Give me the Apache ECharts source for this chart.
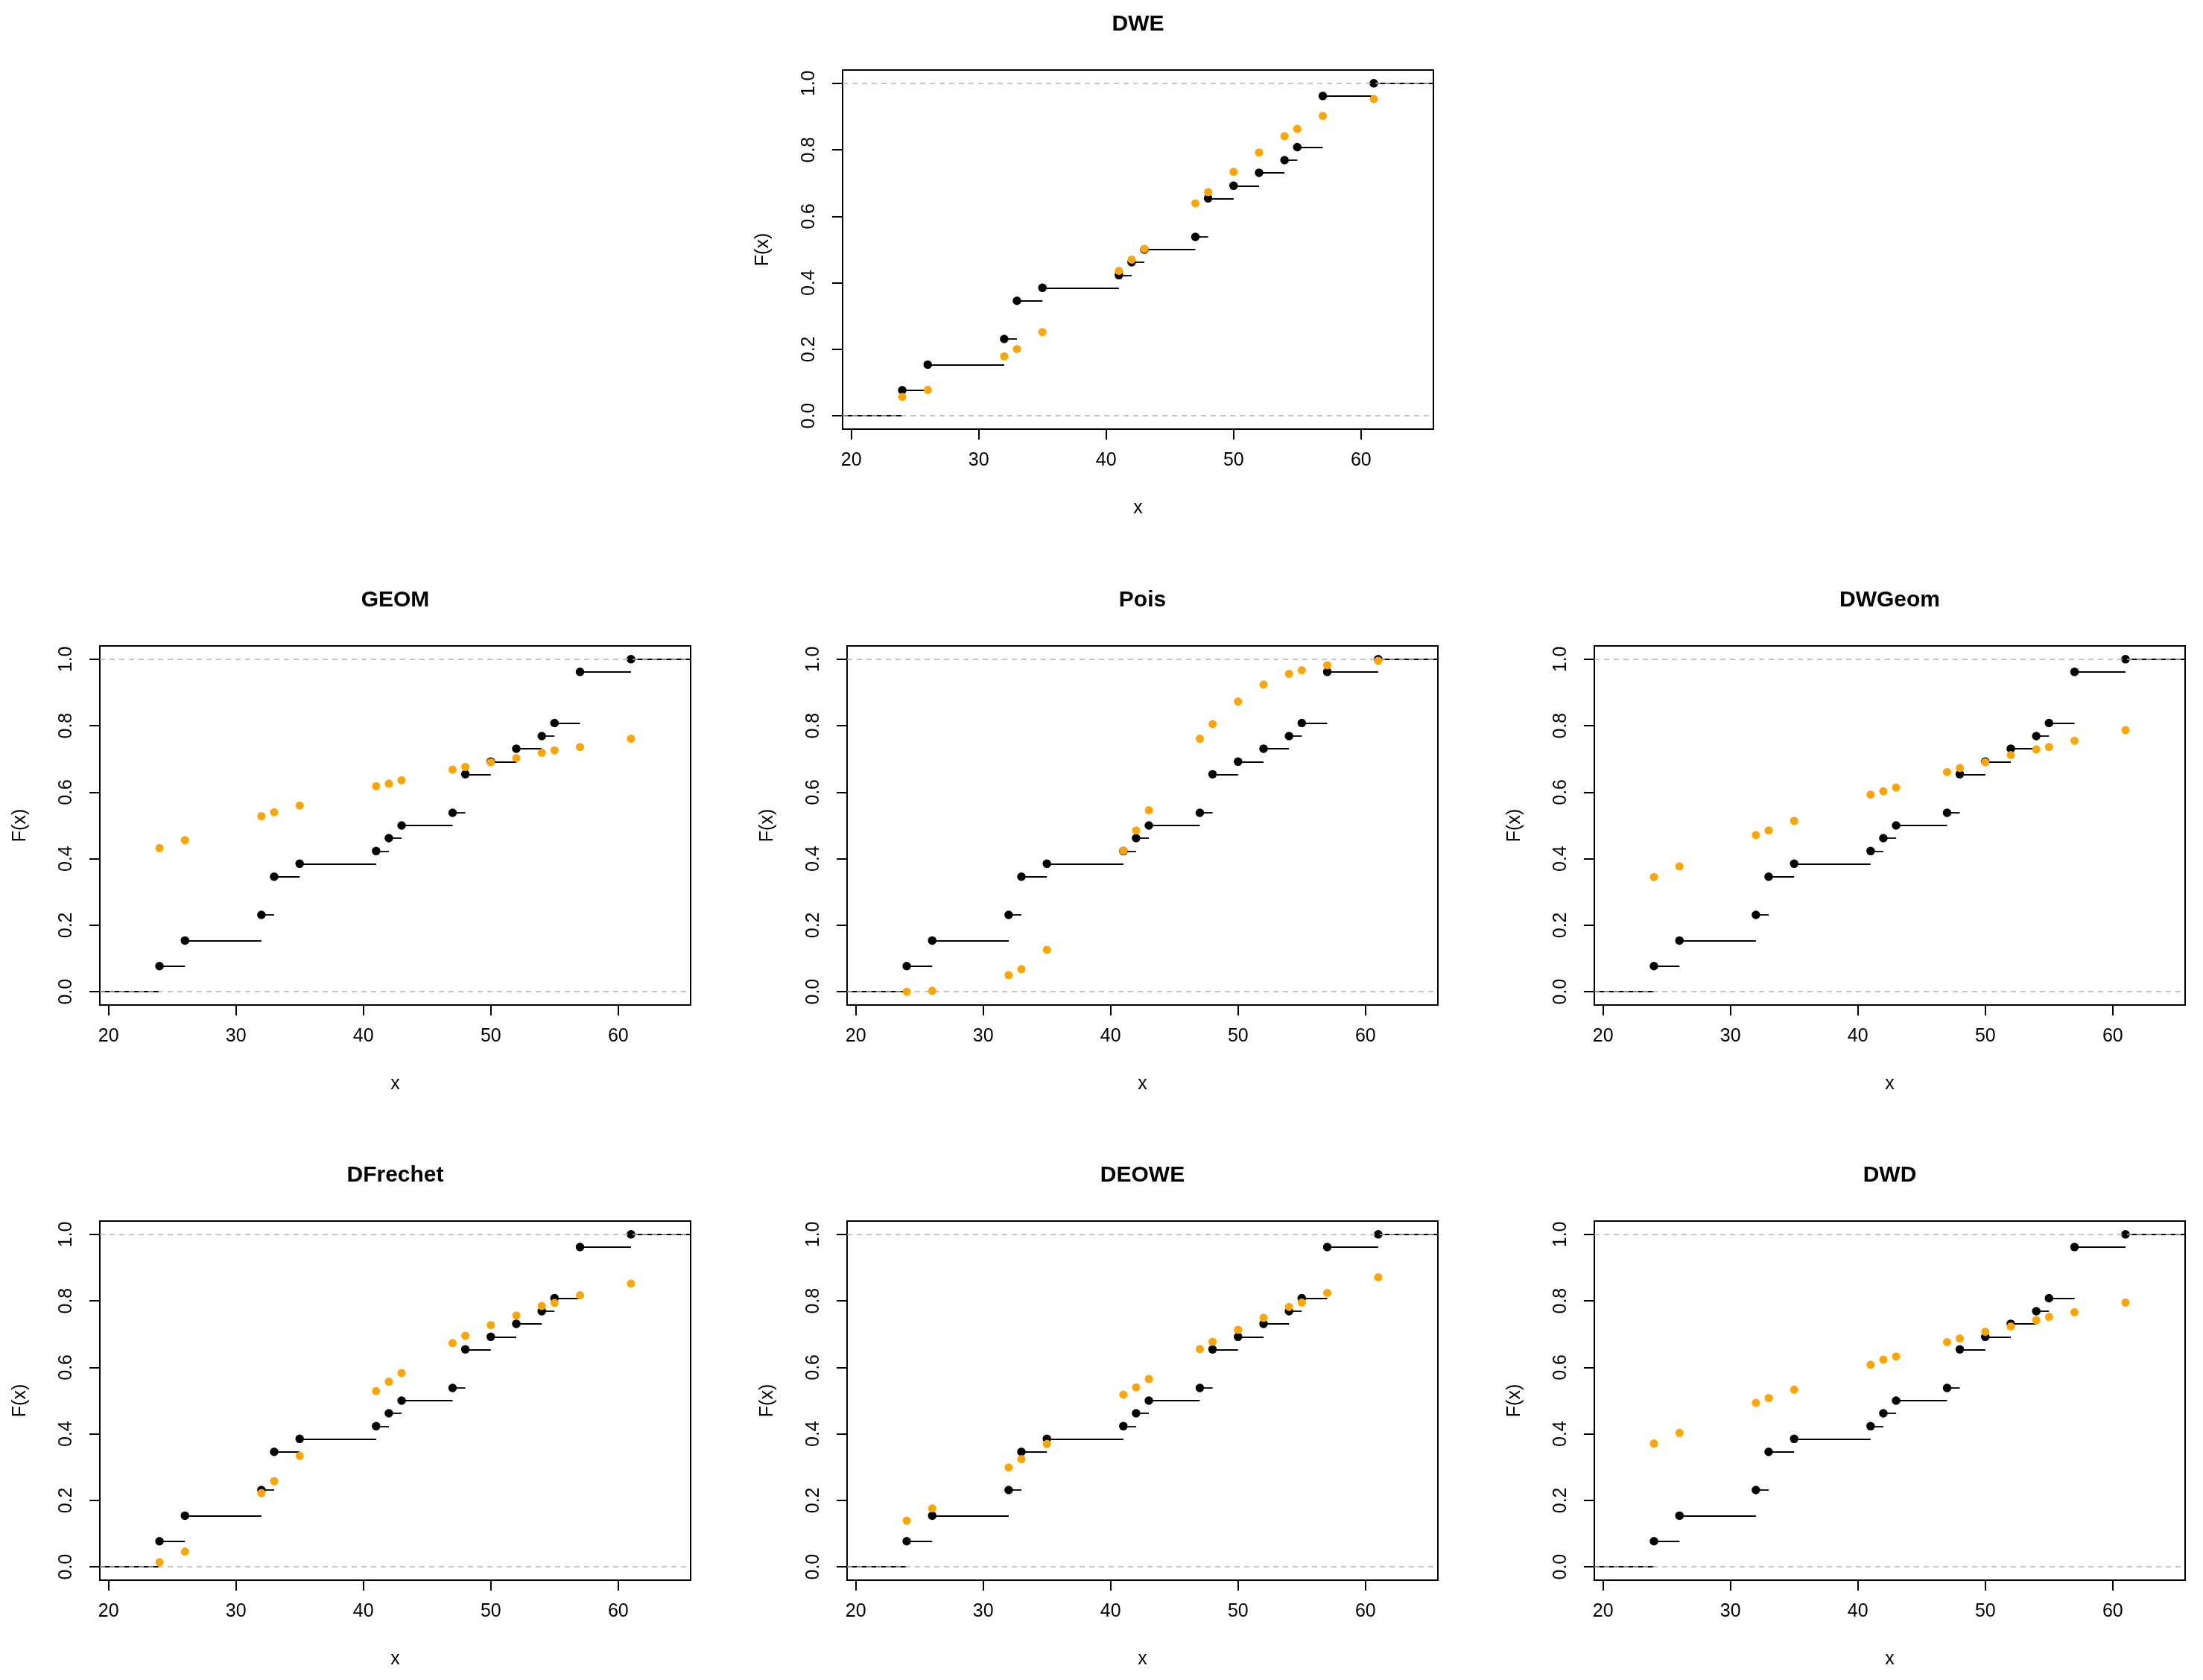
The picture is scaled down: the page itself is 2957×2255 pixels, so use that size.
<!DOCTYPE html>
<html>
<head>
<meta charset="utf-8">
<script src="https://cdn.jsdelivr.net/npm/echarts@6/dist/echarts.min.js"></script>
<style>
html,body{margin:0;padding:0;background:#fff;}
#chart{width:2957px;height:2255px;}
</style>
</head>
<body>
<div id="chart"></div>
<script>
// ---- data ----
const xVals = [24, 26, 32, 33, 35, 41, 42, 43, 47, 48, 50, 52, 54, 55, 57, 61];
const ecdfVals = [0.077, 0.154, 0.231, 0.346, 0.385, 0.423, 0.462, 0.500, 0.538, 0.654, 0.692, 0.731, 0.769, 0.808, 0.962, 1.000];
const panelNames = ['DWE', 'GEOM', 'Pois', 'DWGeom', 'DFrechet', 'DEOWE', 'DWD'];
const fitDWE      = [0.057, 0.078, 0.179, 0.201, 0.252, 0.436, 0.470, 0.502, 0.639, 0.673, 0.734, 0.792, 0.841, 0.863, 0.902, 0.953];
const fitGEOM     = [0.432, 0.456, 0.528, 0.540, 0.560, 0.618, 0.626, 0.636, 0.668, 0.676, 0.690, 0.703, 0.719, 0.726, 0.736, 0.761];
const fitPois     = [0.000, 0.003, 0.050, 0.068, 0.126, 0.424, 0.485, 0.546, 0.761, 0.805, 0.873, 0.924, 0.956, 0.967, 0.982, 0.995];
const fitDWGeom   = [0.345, 0.377, 0.471, 0.485, 0.514, 0.593, 0.603, 0.614, 0.661, 0.673, 0.690, 0.712, 0.729, 0.736, 0.755, 0.787];
const fitDFrechet = [0.014, 0.046, 0.222, 0.258, 0.334, 0.529, 0.557, 0.583, 0.673, 0.695, 0.727, 0.756, 0.785, 0.794, 0.817, 0.852];
const fitDEOWE    = [0.139, 0.176, 0.299, 0.324, 0.370, 0.518, 0.540, 0.565, 0.655, 0.677, 0.713, 0.749, 0.782, 0.795, 0.824, 0.871];
const fitDWD      = [0.371, 0.403, 0.493, 0.508, 0.533, 0.608, 0.623, 0.633, 0.676, 0.687, 0.707, 0.723, 0.742, 0.752, 0.766, 0.795];
const fits = [fitDWE, fitGEOM, fitPois, fitDWGeom, fitDFrechet, fitDEOWE, fitDWD];
const xTicks = [20, 30, 40, 50, 60];
const yTicks = [0, 0.2, 0.4, 0.6, 0.8, 1.0];
const xRange = [19.32, 65.68];
const yRange = [-0.04, 1.04];
const refLevels = [0, 1];

// ---- layout ----
const W = 793, H = 482;
const layout = [
  {left: 1131, top: 94},
  {left: 134, top: 867}, {left: 1137, top: 867}, {left: 2140, top: 867},
  {left: 134, top: 1639}, {left: 1137, top: 1639}, {left: 2140, top: 1639}
];
const FONT = 'Liberation Sans, Arial, sans-serif';

const grids = [], xAxes = [], yAxes = [], titles = [], series = [];
panelNames.forEach((name, i) => {
  const L = layout[i];
  grids.push({left: L.left, top: L.top, width: W, height: H, show: true,
    borderColor: '#000', borderWidth: 2, backgroundColor: 'transparent', containLabel: false});
  xAxes.push({type: 'value', gridIndex: i, min: xRange[0], max: xRange[1], position: 'bottom',
    name: 'x', nameLocation: 'middle', nameGap: 94,
    nameTextStyle: {fontSize: 25, fontFamily: FONT, color: '#000'},
    axisLine: {show: false, onZero: false}, splitLine: {show: false},
    axisTick: {show: true, inside: false, length: 14, customValues: xTicks, lineStyle: {color: '#000', width: 2}},
    axisLabel: {show: true, customValues: xTicks, margin: 30, fontSize: 25, fontFamily: FONT, color: '#000',
      formatter: v => String(Math.round(v))}
  });
  yAxes.push({type: 'value', gridIndex: i, min: yRange[0], max: yRange[1], position: 'left',
    name: 'F(x)', nameLocation: 'middle', nameGap: 94, nameRotate: 90,
    nameTextStyle: {fontSize: 25, fontFamily: FONT, color: '#000'},
    axisLine: {show: false, onZero: false}, splitLine: {show: false},
    axisTick: {show: true, inside: false, length: 14, customValues: yTicks, lineStyle: {color: '#000', width: 2}},
    axisLabel: {show: true, customValues: yTicks, rotate: 90, margin: 32, fontSize: 25, fontFamily: FONT, color: '#000',
      formatter: v => v.toFixed(1)}
  });
  titles.push({text: name, left: L.left + W / 2, top: L.top - 61.5, textAlign: 'center', textVerticalAlign: 'middle',
    padding: 0, textStyle: {fontSize: 30, fontWeight: 'bold', fontFamily: FONT, color: '#000'}});

  // step segments (including tails)
  const segs = [{coords: [[xRange[0], 0], [xVals[0], 0]]}];
  for (let k = 0; k < xVals.length; k++) {
    const xEnd = k < xVals.length - 1 ? xVals[k + 1] : xRange[1];
    segs.push({coords: [[xVals[k], ecdfVals[k]], [xEnd, ecdfVals[k]]]});
  }
  series.push({type: 'lines', coordinateSystem: 'cartesian2d', xAxisIndex: i, yAxisIndex: i,
    data: segs, silent: true, z: 2,
    lineStyle: {color: '#000', width: 1.8, opacity: 1, type: 'solid'}});
  series.push({type: 'scatter', xAxisIndex: i, yAxisIndex: i, z: 3, silent: true,
    symbol: 'circle', symbolSize: 11.5, itemStyle: {color: '#000', opacity: 1},
    data: xVals.map((x, k) => [x, ecdfVals[k]])});
  // reference dashed lines at 0 and 1
  series.push({type: 'lines', coordinateSystem: 'cartesian2d', xAxisIndex: i, yAxisIndex: i,
    data: refLevels.map(v => ({coords: [[xRange[0], v], [xRange[1], v]]})), silent: true, z: 4,
    lineStyle: {color: '#B3B3B3', width: 1.6, opacity: 1, type: [7, 6]}});
  series.push({type: 'scatter', xAxisIndex: i, yAxisIndex: i, z: 5, silent: true,
    symbol: 'circle', symbolSize: 11, itemStyle: {color: '#FFA500', opacity: 1},
    data: xVals.map((x, k) => [x, fits[i][k]])});
});

const chart = echarts.init(document.getElementById('chart'), null, {renderer: 'canvas'});
chart.setOption({
  backgroundColor: '#fff',
  animation: false,
  title: titles,
  grid: grids,
  xAxis: xAxes,
  yAxis: yAxes,
  series: series
});
</script>
</body>
</html>
